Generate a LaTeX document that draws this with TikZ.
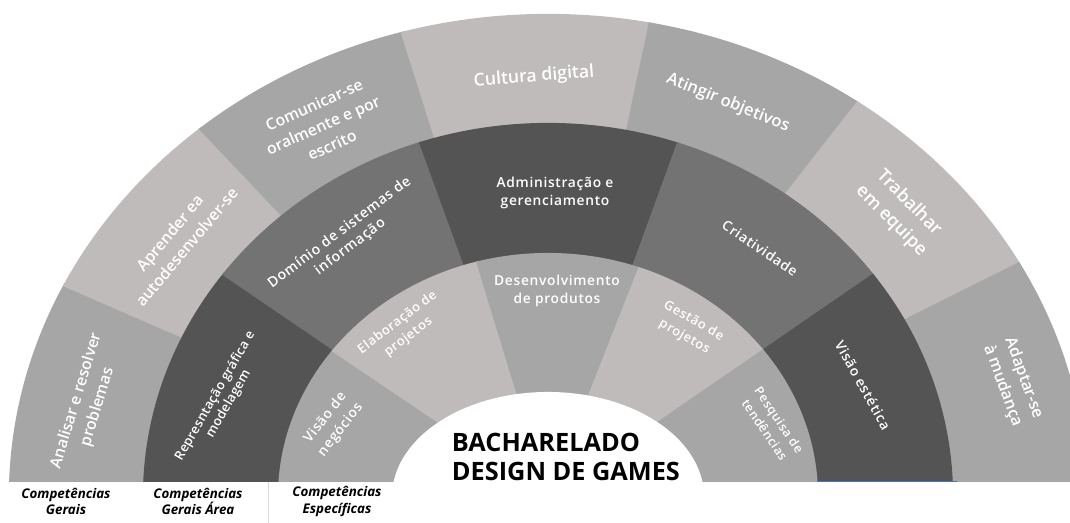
\documentclass[tikz,border=0pt]{standalone}
\usepackage{fontspec}
\setmainfont{Open Sans}
\newfontfamily\sbfont{Open Sans Semibold}
\usetikzlibrary{calc}

\definecolor{glight}{HTML}{BFBBBB}
\definecolor{gmid}{HTML}{A6A6A6}
\definecolor{gdark}{HTML}{737373}
\definecolor{gdarker}{HTML}{545454}
\definecolor{baseblue}{HTML}{4472C4}
\definecolor{sepgray}{HTML}{D9D9D9}

\begin{document}
\begin{tikzpicture}[x=0.025cm, y=0.025cm,
    outerlab/.style={text=white, align=center, inner sep=1pt,
      font=\sbfont\fontsize{#1}{\dimexpr #1pt*14/10\relax}\selectfont},
    outerlab/.default=11.5,
    midlab/.style={text=white, align=center, inner sep=1pt,
      font=\sbfont\fontsize{#1}{\dimexpr #1pt*125/100\relax}\selectfont\addfontfeatures{LetterSpace=5}},
    midlab/.default=9.8,
    innerlab/.style={text=white, align=center, inner sep=1pt,
      font=\sbfont\fontsize{#1}{\dimexpr #1pt*140/100\relax}\selectfont\addfontfeatures{LetterSpace=5}},
    innerlab/.default=9.2,
    caption/.style={align=center, font=\bfseries\itshape\fontsize{9.5}{12}\selectfont},
    title/.style={align=left, font=\bfseries\fontsize{18}{21}\selectfont}]
\useasboundingbox (0,0) rectangle (1070,523);
\coordinate (C) at (548,26);

\begin{scope}
  \clip (0,41) rectangle (1070,523);
  % anel externo
  \foreach \a/\b/\c in {200/156.5/gmid, 156.5/133.5/glight, 133.5/107.6/gmid,
      107.6/78/glight, 78/52/gmid, 52/26.5/glight, 26.5/-20/gmid}{
    \begin{scope}
      \clip (C) -- ($(C)+(\a:1200)$) -- ($(C)+(\b-0.4:1200)$) -- cycle;
      \fill[\c] (C) ellipse [x radius=13.475cm, y radius=12.075cm];
    \end{scope}
  }
  % anel do meio
  \foreach \a/\b/\c in {200/145.7/gdarker, 145.7/110/gdark, 110/70/gdarker,
      70/34.5/gdark, 34.5/-20/gdarker}{
    \begin{scope}
      \clip (C) -- ($(C)+(\a:1200)$) -- ($(C)+(\b-0.4:1200)$) -- cycle;
      \fill[\c] (C) ellipse [x radius=10.125cm, y radius=9.35cm];
    \end{scope}
  }
  % anel interno
  \foreach \a/\b/\c in {200/146/gmid, 146/107/glight, 107/68.5/gmid,
      68.5/34.5/glight, 34.5/-20/gmid}{
    \begin{scope}
      \clip (C) -- ($(C)+(\a:1200)$) -- ($(C)+(\b-0.4:1200)$) -- cycle;
      \fill[\c] (C) ellipse [x radius=6.75cm, y radius=6.1cm];
    \end{scope}
  }
  \fill[white] (C) ellipse [x radius=3.9cm, y radius=2.625cm];
\end{scope}

\draw[baseblue, line width=0.6pt] (817,41.3) -- (957,41.3);
\draw[sepgray, line width=0.6pt] (268,41) -- (268,0);

% competencias gerais
\node[outerlab=11.2, rotate=73] (analisar) at (87,119) {Analisar e resolver\\problemas};
\node[outerlab=11.2, rotate=50] (aprender) at (178,283) {Aprender ea\\autodesenvolver-se};
\node[outerlab=11.2, rotate=24] (comunicar) at (323,398) {Comunicar-se\\oralmente e por\\escrito};
\node[outerlab=12.6, rotate=4.5] (cultura) at (534,446) {Cultura digital};
\node[outerlab=11.8, rotate=-22] (atingir) at (728,420) {Atingir objetivos};
\node[outerlab=12.8, rotate=-45] (trabalhar) at (900,311) {Trabalhar\\em equipe};
\node[outerlab=11.4, rotate=-70] (adaptar) at (1013,141) {Adaptar-se\\à mudança};

% competencias gerais da area
\node[midlab, rotate=60, font=\sbfont\fontsize{9.2}{11}\selectfont\addfontfeatures{LetterSpace=2}] (represntacao) at (222,123) {Represntação gráfica e\\modelagem};
\node[midlab=10, rotate=37] (dominio) at (345,283) {Domínio de sistemas de\\informação};
\node[midlab] (administracao) at (555,330) {Administração e\\gerenciamento};
\node[midlab, rotate=-34] (criatividade) at (760,275) {Criatividade};
\node[midlab, rotate=-61] (visaoestetica) at (863,138) {Visão estética};

% competencias especificas
\node[innerlab=9.8, rotate=52] (visaonegocios) at (333,99) {Visão de\\negócios};
\node[innerlab, rotate=37] (elaboracao) at (403,193) {Elaboração de\\projetos};
\node[innerlab, font=\sbfont\fontsize{9.8}{12.2}\selectfont\addfontfeatures{LetterSpace=5}] (desenvolvimento) at (557,232) {Desenvolvimento\\de produtos};
\node[innerlab, rotate=-30] (gestao) at (689,194) {Gestão de\\projetos};
\node[innerlab=8.8, rotate=-56] (pesquisa) at (772,98) {Pesquisa de\\tendências};

\node[title, anchor=west] (curso) at (447,66) {BACHARELADO\\DESIGN DE GAMES};

\node[caption] (gerais) at (66,21.5) {Competências\\Gerais};
\node[caption] (geraisarea) at (198,21.5) {Competências\\Gerais Área};
\node[caption] (especificas) at (337,21.5) {Competências\\Específicas};
\end{tikzpicture}
\end{document}
